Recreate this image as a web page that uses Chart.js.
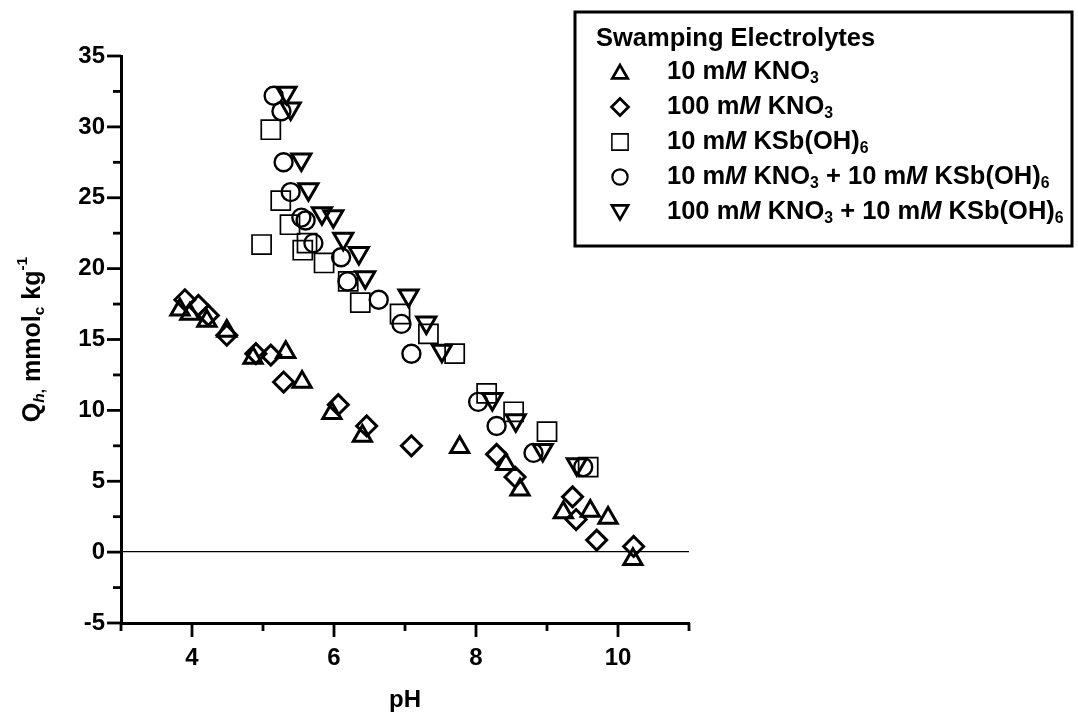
<!DOCTYPE html>
<html>
<head>
<meta charset="utf-8">
<script src="https://cdn.jsdelivr.net/npm/chart.js@4.4.1/dist/chart.umd.min.js"></script>
<style>
  html, body { margin: 0; padding: 0; background: #fff; }
  canvas { display: block; }
</style>
</head>
<body>
<canvas id="chart" width="1078" height="724"></canvas>
<script>
const FONT = '"Liberation Sans", Arial, Helvetica, sans-serif';

// Proton surface charge (mmol_c/kg) versus pH for each swamping electrolyte
const phKNO3_10 = [3.83, 3.97, 4.21, 4.49, 4.86, 5.32, 5.55, 5.97, 6.40, 7.77, 8.42, 8.62, 9.23, 9.61, 9.86, 10.21];
const qKNO3_10  = [17.1, 16.8, 16.3, 15.6, 13.7, 14.1, 12.0, 9.8, 8.2, 7.4, 6.2, 4.4, 2.8, 2.9, 2.4, -0.5];

const phKNO3_100 = [3.90, 4.09, 4.23, 4.49, 4.90, 5.11, 5.29, 6.06, 6.46, 7.09, 8.29, 8.55, 9.36, 9.41, 9.70, 10.22];
const qKNO3_100  = [17.8, 17.4, 16.7, 15.3, 14.0, 13.9, 12.0, 10.4, 8.9, 7.5, 6.9, 5.3, 3.9, 2.3, 0.85, 0.4];

const phKSb_10 = [4.98, 5.11, 5.25, 5.38, 5.56, 5.62, 5.86, 6.20, 6.37, 6.93, 7.33, 7.70, 8.15, 8.53, 9.00, 9.58];
const qKSb_10  = [21.7, 29.8, 24.8, 23.1, 21.3, 21.8, 20.4, 19.1, 17.6, 16.8, 15.4, 14.0, 11.2, 9.9, 8.5, 6.0];

const phMix_10 = [5.15, 5.26, 5.29, 5.39, 5.54, 5.60, 5.71, 6.10, 6.19, 6.63, 6.95, 7.09, 8.03, 8.29, 8.81, 9.51];
const qMix_10  = [32.2, 31.1, 27.5, 25.4, 23.6, 23.4, 21.8, 20.8, 19.1, 17.8, 16.1, 14.0, 10.6, 8.9, 7.0, 6.0];

const phMix_100 = [5.33, 5.39, 5.54, 5.64, 5.83, 5.99, 6.13, 6.35, 6.44, 7.05, 7.30, 7.52, 8.23, 8.56, 8.94, 9.42];
const qMix_100  = [32.4, 31.3, 27.7, 25.6, 23.9, 23.7, 22.1, 21.1, 19.4, 18.1, 16.2, 14.2, 10.8, 9.3, 7.2, 6.2];

// Tick label values
const xTickLabels = [4, 6, 8, 10];
const yTickLabels = [-5, 0, 5, 10, 15, 20, 25, 30, 35];

// Legend entries as rich text runs
const legendTitle = 'Swamping Electrolytes';
const seriesNames = [
  [{t: '10 m'}, {t: 'M', it: true}, {t: ' KNO'}, {t: '3', sub: true}],
  [{t: '100 m'}, {t: 'M', it: true}, {t: ' KNO'}, {t: '3', sub: true}],
  [{t: '10 m'}, {t: 'M', it: true}, {t: ' KSb(OH)'}, {t: '6', sub: true}],
  [{t: '10 m'}, {t: 'M', it: true}, {t: ' KNO'}, {t: '3', sub: true}, {t: ' + 10 m'}, {t: 'M', it: true}, {t: ' KSb(OH)'}, {t: '6', sub: true}],
  [{t: '100 m'}, {t: 'M', it: true}, {t: ' KNO'}, {t: '3', sub: true}, {t: ' + 10 m'}, {t: 'M', it: true}, {t: ' KSb(OH)'}, {t: '6', sub: true}]
];
const yTitle = [{t: 'Q'}, {t: 'h', it: true, sub: true}, {t: ',', sub: true}, {t: ' mmol'}, {t: 'c', sub: true}, {t: ' kg'}, {t: '-1', sup: true}];
const xTitle = 'pH';

function pts(xs, ys) { return xs.map((x, i) => ({x: x, y: ys[i]})); }

const markerStyles = [
  {pointStyle: 'triangle', radius: 10.5, borderWidth: 3, rotation: 0},
  {pointStyle: 'rectRot', radius: 10, borderWidth: 3, rotation: 0},
  {pointStyle: 'rect', radius: 13.5, borderWidth: 1.7, rotation: 0},
  {pointStyle: 'circle', radius: 9, borderWidth: 2.4, rotation: 0},
  {pointStyle: 'triangle', radius: 11, borderWidth: 3, rotation: 180}
];
const seriesData = [
  pts(phKNO3_10, qKNO3_10),
  pts(phKNO3_100, qKNO3_100),
  pts(phKSb_10, qKSb_10),
  pts(phMix_10, qMix_10),
  pts(phMix_100, qMix_100)
];

const datasets = seriesData.map((d, i) => ({
  data: d,
  showLine: false,
  pointStyle: markerStyles[i].pointStyle,
  pointRadius: markerStyles[i].radius,
  pointHoverRadius: markerStyles[i].radius,
  pointRotation: markerStyles[i].rotation,
  pointBorderWidth: markerStyles[i].borderWidth,
  pointBorderColor: '#000',
  pointBackgroundColor: 'rgba(0,0,0,0)'
}));

// Draws a run of text pieces with italic, subscript and superscript parts
function richWidth(ctx, parts, size) {
  let w = 0;
  parts.forEach(p => {
    const s = (p.sub || p.sup) ? size * 0.62 : size;
    ctx.font = (p.it ? 'italic ' : '') + 'bold ' + s + 'px ' + FONT;
    w += ctx.measureText(p.t).width;
  });
  return w;
}
function drawRich(ctx, parts, x, y, size) {
  let cx = x;
  parts.forEach(p => {
    const s = (p.sub || p.sup) ? size * 0.62 : size;
    const dy = p.sub ? size * 0.28 : (p.sup ? -size * 0.4 : 0);
    ctx.font = (p.it ? 'italic ' : '') + 'bold ' + s + 'px ' + FONT;
    ctx.fillText(p.t, cx, y + dy);
    cx += ctx.measureText(p.t).width;
  });
}

const TICK_MAJOR = 14, TICK_MINOR = 8;

const decorations = {
  id: 'decorations',
  afterDraw(chart) {
    const ctx = chart.ctx;
    const xs = chart.scales.x, ys = chart.scales.y;
    const area = chart.chartArea;
    ctx.save();
    ctx.strokeStyle = '#000';
    ctx.lineWidth = 2.8;
    ctx.lineCap = 'butt';
    // tick marks: labelled values long, the rest short
    xs.ticks.forEach(t => {
      const px = xs.getPixelForValue(t.value);
      const len = xTickLabels.includes(t.value) ? TICK_MAJOR : TICK_MINOR;
      ctx.beginPath(); ctx.moveTo(px, area.bottom); ctx.lineTo(px, area.bottom + len); ctx.stroke();
    });
    ys.ticks.forEach(t => {
      const py = ys.getPixelForValue(t.value);
      const len = yTickLabels.includes(t.value) ? TICK_MAJOR : TICK_MINOR;
      ctx.beginPath(); ctx.moveTo(area.left, py); ctx.lineTo(area.left - len, py); ctx.stroke();
    });

    ctx.fillStyle = '#000';
    ctx.textBaseline = 'middle';
    // x title
    ctx.textAlign = 'center';
    ctx.font = 'bold 24px ' + FONT;
    ctx.fillText(xTitle, (area.left + area.right) / 2, 700);
    // y title, rotated
    ctx.textAlign = 'left';
    const tw = richWidth(ctx, yTitle, 25);
    ctx.save();
    ctx.translate(33, (area.top + area.bottom) / 2);
    ctx.rotate(-Math.PI / 2);
    drawRich(ctx, yTitle, -tw / 2, 0, 25);
    ctx.restore();

    // legend box
    const bx = 575, by = 12, bw = 497, bh = 234;
    ctx.lineWidth = 3;
    ctx.strokeRect(bx, by, bw, bh);
    ctx.font = 'bold 25.5px ' + FONT;
    ctx.textAlign = 'left';
    ctx.fillText(legendTitle, 596, 39);
    const rowY = [72, 107, 142, 177, 212];
    seriesNames.forEach((name, i) => {
      const m = markerStyles[i];
      ctx.lineWidth = m.borderWidth * 0.9;
      ctx.strokeStyle = '#000';
      ctx.fillStyle = 'rgba(0,0,0,0)';
      Chart.helpers.drawPoint(ctx, {pointStyle: m.pointStyle, radius: m.radius * 0.85, rotation: m.rotation, borderWidth: m.borderWidth * 0.9}, 620, rowY[i] + (m.pointStyle === 'triangle' ? (m.rotation ? -2 : 2) : 0));
      ctx.fillStyle = '#000';
      drawRich(ctx, name, 667, rowY[i], 25.5);
    });
    ctx.restore();
  }
};

new Chart(document.getElementById('chart').getContext('2d'), {
  type: 'scatter',
  data: { datasets: datasets },
  options: {
    responsive: false,
    animation: false,
    devicePixelRatio: 1,
    layout: { padding: { left: 0, top: 56, right: 389, bottom: 0 } },
    plugins: { legend: { display: false }, tooltip: { enabled: false } },
    scales: {
      x: {
        type: 'linear', min: 3, max: 11,
        ticks: {
          stepSize: 1, autoSkip: false, maxRotation: 0, padding: 7, color: '#000',
          font: { family: FONT, size: 24, weight: 'bold' },
          callback: v => xTickLabels.includes(v) ? String(v) : ''
        },
        grid: { drawOnChartArea: false, drawTicks: true, tickLength: TICK_MAJOR, color: 'rgba(0,0,0,0)', tickColor: 'rgba(0,0,0,0)' },
        border: { display: true, color: '#000', width: 3 },
        afterFit(s) { s.height = 101; }
      },
      y: {
        type: 'linear', min: -5, max: 35,
        ticks: {
          stepSize: 2.5, autoSkip: false, padding: 2, color: '#000',
          font: { family: FONT, size: 24, weight: 'bold' },
          callback: v => yTickLabels.includes(v) ? String(v) : ''
        },
        grid: {
          drawOnChartArea: true, drawTicks: true, tickLength: TICK_MAJOR, lineWidth: 1.3,
          color: c => (c.tick && c.tick.value === 0) ? '#000' : 'rgba(0,0,0,0)',
          tickColor: 'rgba(0,0,0,0)'
        },
        border: { display: true, color: '#000', width: 3 },
        afterFit(s) { s.width = 121; }
      }
    }
  },
  plugins: [decorations]
});
</script>
</body>
</html>
